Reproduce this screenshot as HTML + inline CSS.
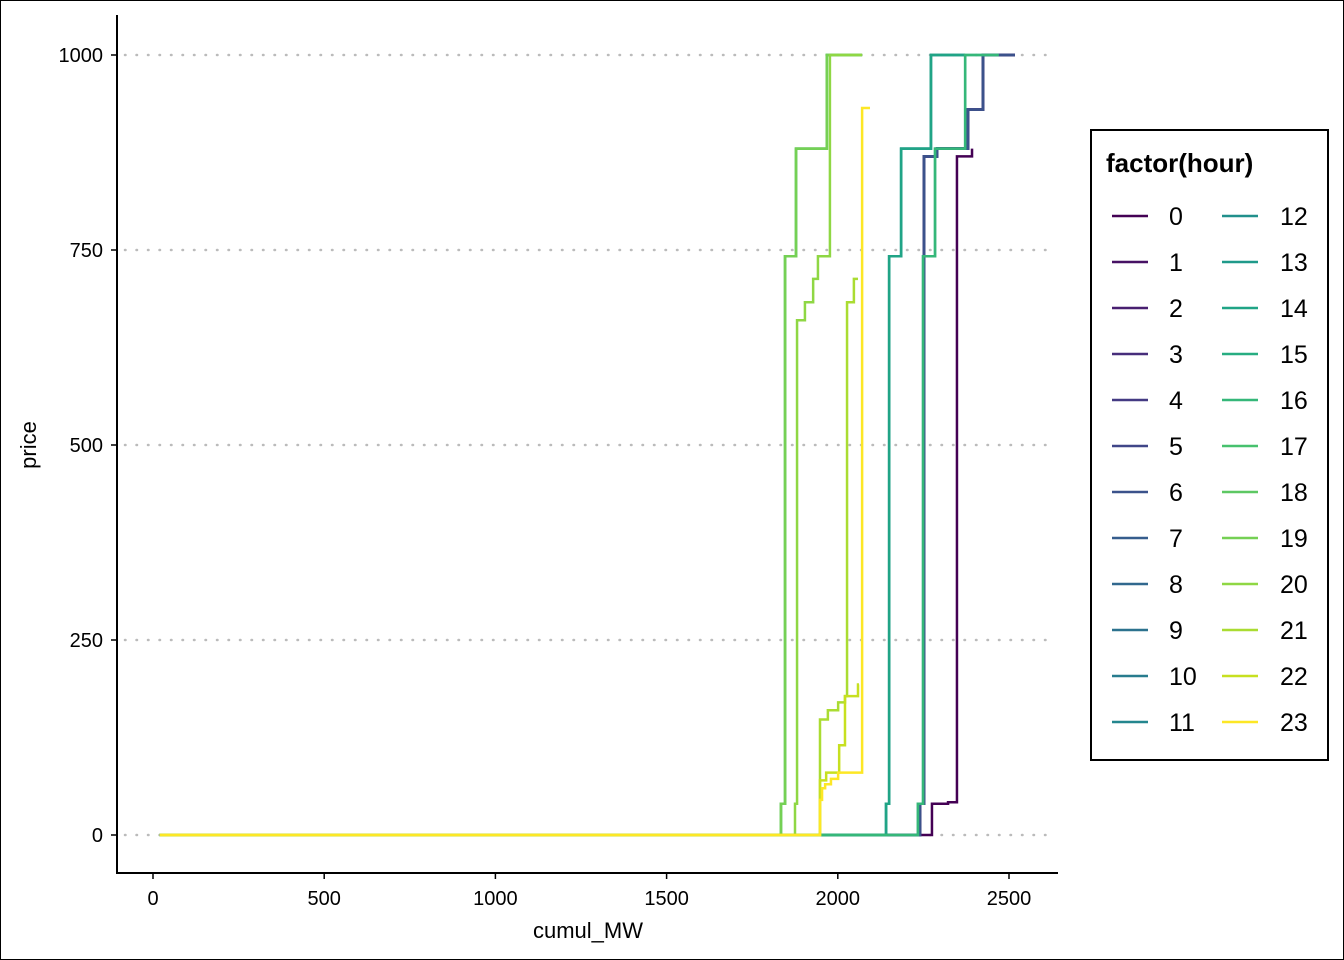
<!DOCTYPE html>
<html><head><meta charset="utf-8"><style>
body{margin:0;background:#fff}
svg{display:block;font-family:"Liberation Sans",Arial,sans-serif}
</style></head><body>
<svg id="chart" width="1344" height="960">
<rect x="0.5" y="0.5" width="1343" height="959" fill="#fff" stroke="#000"/>
<g id="grid"></g><g id="series"></g><g id="axes"></g><g id="legend"></g>
</svg>
<script>
const xTicks=[0,500,1000,1500,2000,2500];
const yTicks=[0,250,500,750,1000];
const hours=[0,1,2,3,4,5,6,7,8,9,10,11,12,13,14,15,16,17,18,19,20,21,22,23];
const curveA_x=[20,2275,2322,2348,2392];
const curveA_y=[0,40,42,870,880];
const curveB_x=[20,2240,2252,2290,2380,2424,2517];
const curveB_y=[0,40,870,880,930,1000,1000];
const curveC1_x=[20,2141,2150,2185,2272,2371];
const curveC1_y=[0,40,742,880,1000,1000];
const curveC2_x=[20,2234,2249,2284,2372,2470];
const curveC2_y=[0,40,742,880,1000,1000];
const curveD_x=[20,1834,1846,1878,1968,2071];
const curveD_y=[0,40,742,880,1000,1000];
const curveE_x=[20,1875,1881,1904,1928,1942,1977,2071];
const curveE_y=[0,40,660,683,713,742,1000,1000];
const curveF_x=[20,1948,1971,2001,2021,2027,2047,2059];
const curveF_y=[0,148,160,170,178,683,713,713];
const curveG_x=[20,1948,1966,2004,2021,2059,2062];
const curveG_y=[0,70,80,115,178,193,193];
const curveH_x=[20,1948,1954,1963,1980,2001,2036,2071,2094];
const curveH_y=[0,45,60,65,72,80,80,932,932];
const hourCurve=['A','B','B','B','B','B','B','B','B','B','B','B','C1','C1','C1','C2','C2','D','D','D','E','F','G','H'];
const colors=["#440154","#471164","#481F70","#472D7B","#443A83","#404688","#3B528B","#365D8D","#31688E","#2C728E","#287C8E","#24868E","#21908C","#1F9A8A","#20A486","#27AD81","#35B779","#47C16E","#5DC863","#75D054","#8FD744","#AADC32","#C7E020","#FDE725"];
const drawOrder=[0,11,10,9,8,7,1,2,3,4,5,6,12,13,14,15,16,17,18,19,20,21,22,23];
const curves={A:[curveA_x,curveA_y],B:[curveB_x,curveB_y],C1:[curveC1_x,curveC1_y],C2:[curveC2_x,curveC2_y],D:[curveD_x,curveD_y],E:[curveE_x,curveE_y],F:[curveF_x,curveF_y],G:[curveG_x,curveG_y],H:[curveH_x,curveH_y]};
const NS="http://www.w3.org/2000/svg";
const sx=v=>153+v*856/2500, sy=v=>835-v*0.78;
function mk(tag,attrs,parent){const e=document.createElementNS(NS,tag);for(const k in attrs)e.setAttribute(k,attrs[k]);parent.appendChild(e);return e;}
const grid=document.getElementById('grid'),ser=document.getElementById('series'),axes=document.getElementById('axes'),leg=document.getElementById('legend');
yTicks.forEach(t=>{
 const l=mk('line',{x1:125,x2:1052,y1:sy(t),y2:sy(t),stroke:'#bbb','stroke-width':2.5,'stroke-dasharray':'0.5 11','stroke-linecap':'round'},grid);
 
 
 const tk=mk('line',{x1:111,x2:117,y1:sy(t),y2:sy(t),stroke:'#000','stroke-width':1.5},axes);
 
 
 const tx=mk('text',{x:103,y:sy(t)+7,'text-anchor':'end','font-size':20},axes);tx.textContent=t;
 
 
});
xTicks.forEach(t=>{
 const tk=mk('line',{x1:sx(t),x2:sx(t),y1:873,y2:879,stroke:'#000','stroke-width':1.5},axes);
 
 
 const tx=mk('text',{x:sx(t),y:905,'text-anchor':'middle','font-size':20},axes);tx.textContent=t;
 
 
});
const ax=mk('path',{d:'M117,15V873H1058',fill:'none',stroke:'#000','stroke-width':2},axes);


const xt=mk('text',{x:588,y:938,'text-anchor':'middle','font-size':22},axes);xt.textContent='cumul_MW';


const yt=mk('text',{x:36,y:445,'text-anchor':'middle','font-size':22,transform:'rotate(-90 36 445)'},axes);yt.textContent='price';


drawOrder.forEach(i=>{
 const h=hours[i];
 const [xs,ys]=curves[hourCurve[i]];
 let d='M'+sx(xs[0])+','+sy(ys[0]);
 for(let k=1;k<xs.length;k++){d+='H'+sx(xs[k])+'V'+sy(ys[k]);}
 const p=mk('path',{d:d,fill:'none',stroke:colors[i],'stroke-width':2.5},ser);
 
 
});
const box=mk('rect',{x:1091,y:130,width:237,height:630,fill:'#fff',stroke:'#000','stroke-width':2},leg);


const lt=mk('text',{x:1106,y:172,'font-size':26,'font-weight':'bold'},leg);lt.textContent='factor(hour)';


hours.forEach((h,i)=>{
 const col=i<12?0:1,row=i%12,y=216+row*46,lx=col?1222:1112;
 const g=mk('g',{},leg);
 
 
 mk('line',{x1:lx,x2:lx+36,y1:y,y2:y,stroke:colors[i],'stroke-width':2.5},g);
 const t=mk('text',{x:col?1280:1169,y:y+9,'font-size':25},g);t.textContent=h;
});
</script>
</body></html>
